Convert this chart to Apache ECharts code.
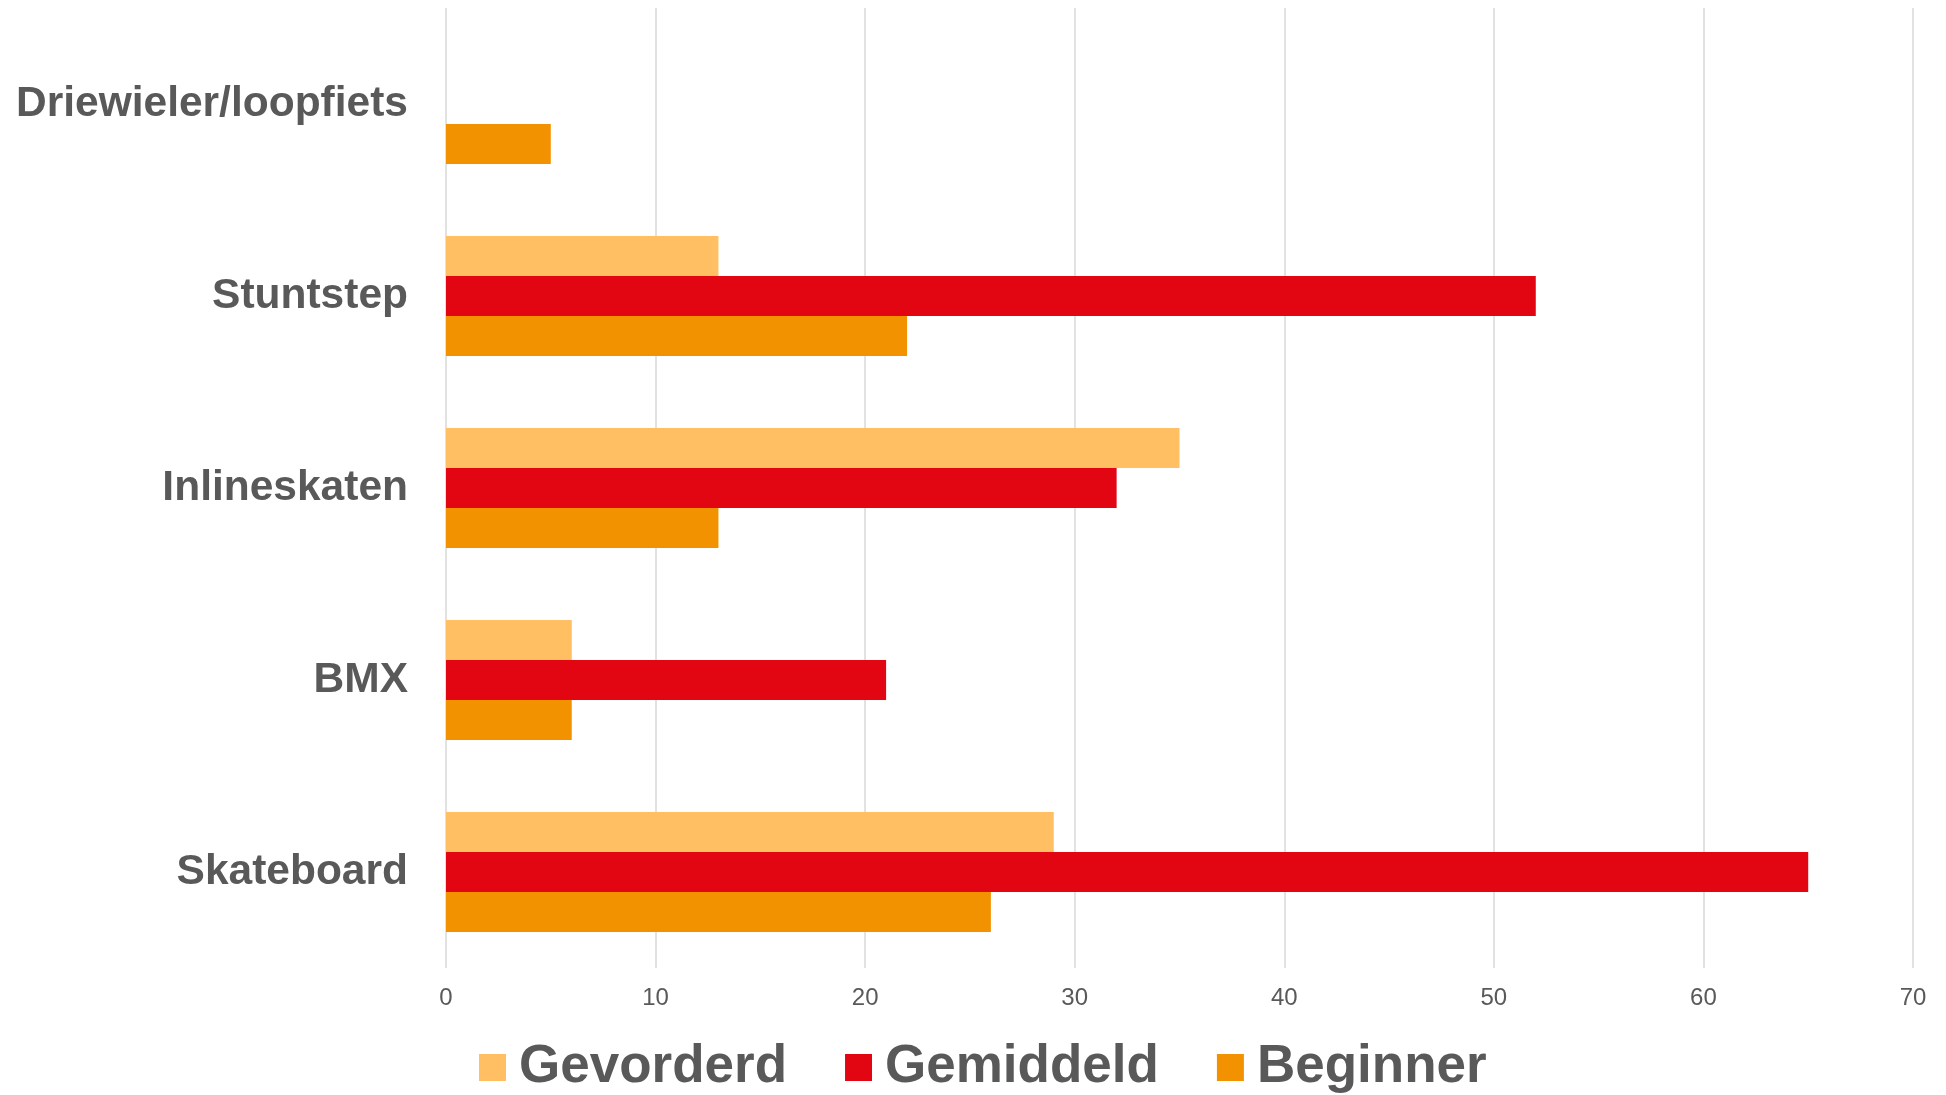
<!DOCTYPE html>
<html>
<head>
<meta charset="utf-8">
<title>Sporten per niveau</title>
<script src="https://cdn.jsdelivr.net/npm/echarts@6/dist/echarts.min.js"></script>
<style>
  html, body { margin: 0; padding: 0; background: #fff; }
  #chart { width: 1946px; height: 1095px; }
</style>
</head>
<body>
<div id="chart"></div>
<script>
// categorieen (van onder naar boven, zoals de as ze tekent)
var categories = ['Skateboard', 'BMX', 'Inlineskaten', 'Stuntstep', 'Driewieler/loopfiets'];

// waarden per niveau
var gevorderd  = [29, 6, 35, 13, 0];
var gemiddeld  = [65, 21, 32, 52, 0];
var beginner   = [26, 6, 13, 22, 5];

var legendNames = ['Gevorderd', 'Gemiddeld', 'Beginner'];

var textColor = '#595959';
var fontName = 'Liberation Sans, Arial, sans-serif';

var myChart = echarts.init(document.getElementById('chart'));

var option = {
    backgroundColor: '#ffffff',
    animation: false,
    textStyle: { fontFamily: fontName },
    grid: {
        left: 446,
        right: 33,
        top: 8,
        bottom: 127
    },
    legend: {
        data: legendNames,
        left: 474,
        top: 1036,
        icon: 'rect',
        itemWidth: 27,
        itemHeight: 27,
        itemGap: 58,
        textStyle: {
            fontSize: 53,
            fontWeight: 'bold',
            color: textColor,
            fontFamily: fontName,
            padding: [0, 0, 0, 8]
        }
    },
    xAxis: {
        type: 'value',
        min: 0,
        max: 70,
        interval: 10,
        axisLine: { show: false },
        axisTick: { show: false },
        axisLabel: {
            fontSize: 24,
            color: textColor,
            margin: 18,
            fontFamily: fontName
        },
        splitLine: {
            show: true,
            lineStyle: { color: '#d9d9d9', width: 1.5 }
        }
    },
    yAxis: {
        type: 'category',
        data: categories,
        axisLine: { show: false },
        axisTick: { show: false },
        axisLabel: {
            fontSize: 42.5,
            fontWeight: 'bold',
            color: textColor,
            margin: 38,
            padding: [3, 0, 0, 0],
            fontFamily: fontName
        }
    },
    series: [
        {
            name: 'Gevorderd',
            type: 'bar',
            data: gevorderd,
            barWidth: 40,
            barGap: '0%',
            itemStyle: { color: '#ffbf62' }
        },
        {
            name: 'Gemiddeld',
            type: 'bar',
            data: gemiddeld,
            barWidth: 40,
            barGap: '0%',
            itemStyle: { color: '#e20613' }
        },
        {
            name: 'Beginner',
            type: 'bar',
            data: beginner,
            barWidth: 40,
            barGap: '0%',
            itemStyle: { color: '#f29200' }
        }
    ]
};

myChart.setOption(option);
</script>
</body>
</html>
